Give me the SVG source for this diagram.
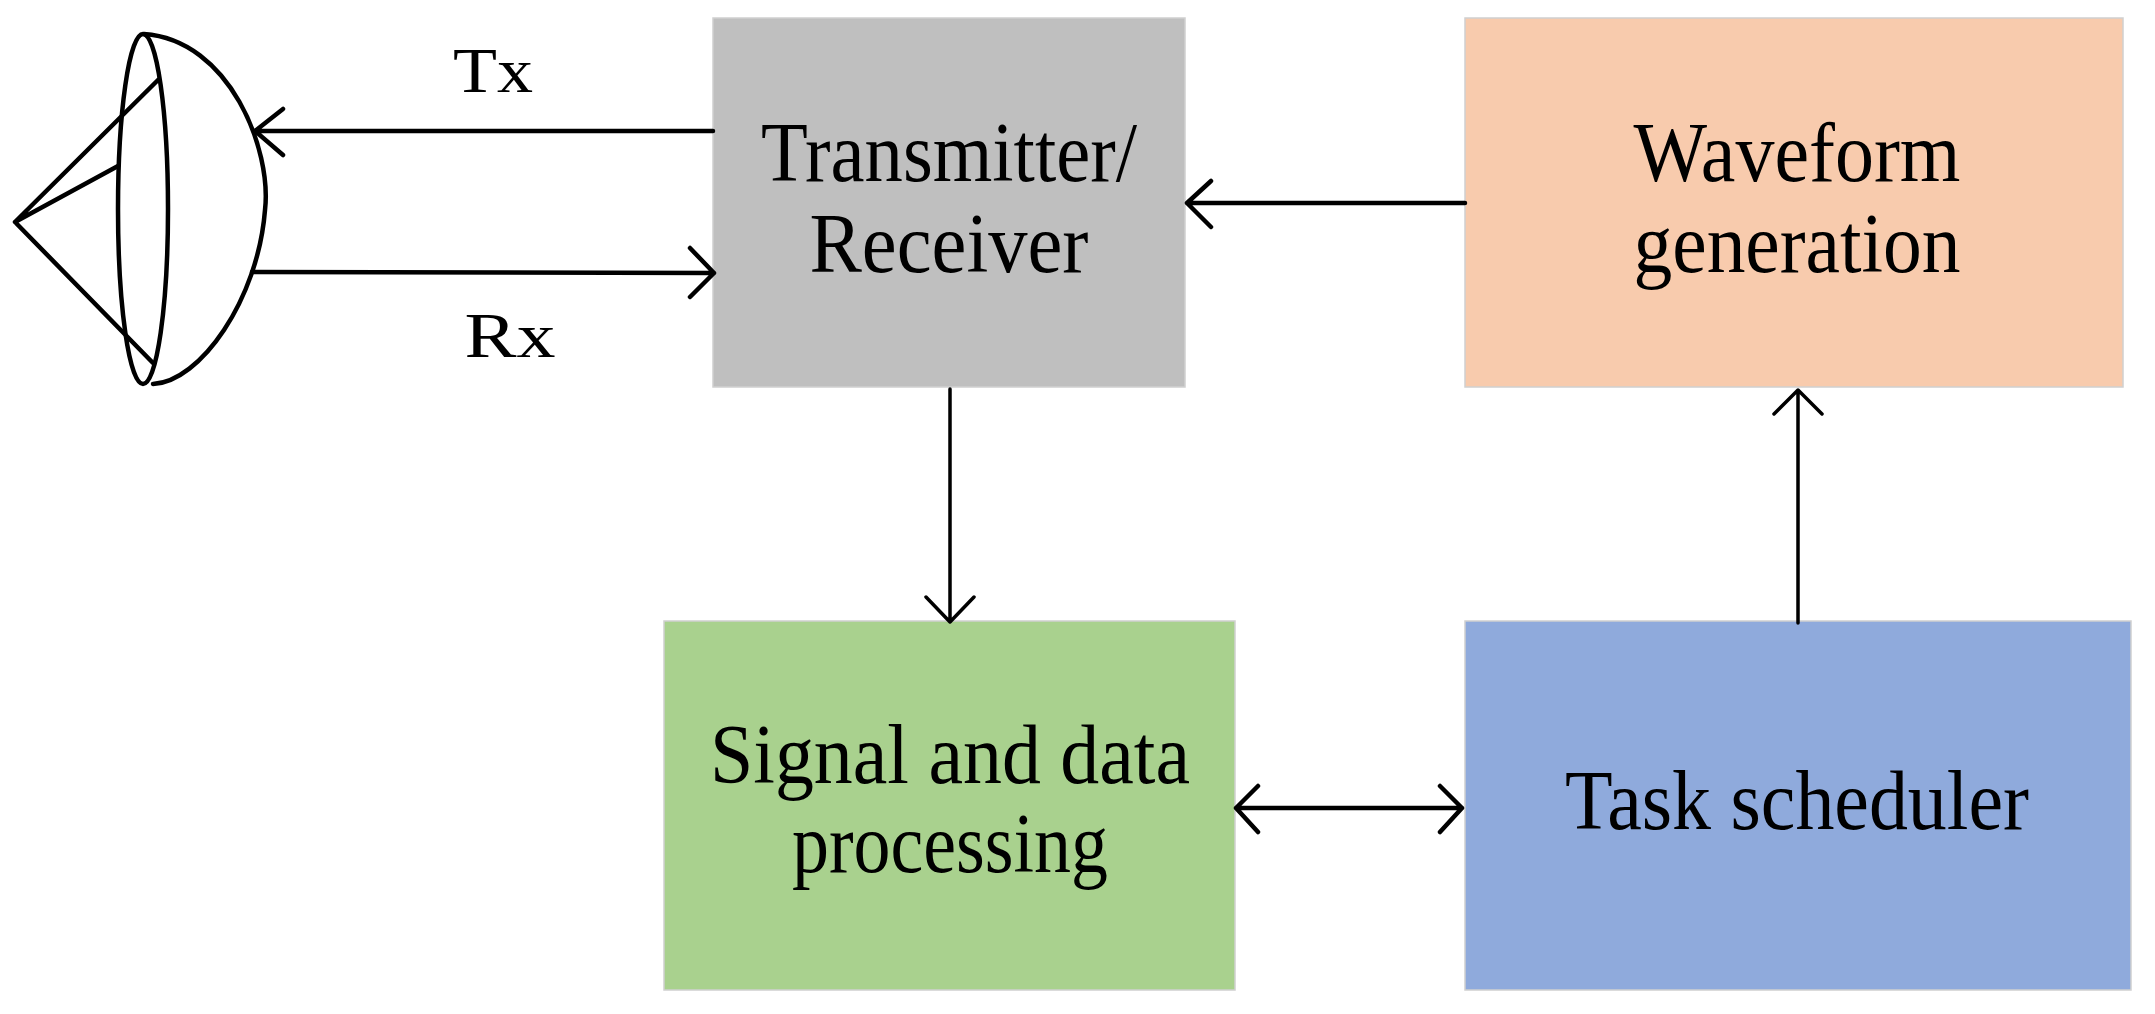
<svg xmlns="http://www.w3.org/2000/svg" width="2155" height="1014" viewBox="0 0 2155 1014">
<style>
.box{stroke:#d0d0d0;stroke-width:1.5}
.t{font-family:"Liberation Serif",serif;font-size:84px;fill:#000;text-anchor:middle}
.l{font-family:"Liberation Serif",serif;font-size:64px;fill:#000;text-anchor:middle}
.c{stroke:#000;stroke-width:4.5;fill:none;stroke-linecap:round;stroke-linejoin:round}
.c3{stroke:#000;stroke-width:3.5;fill:none;stroke-linecap:round;stroke-linejoin:round}
</style>
<rect width="2155" height="1014" fill="#fff"/>
<g id="antenna" class="c" stroke-width="5">
<ellipse cx="143" cy="209" rx="25" ry="175"/>
<path d="M144,34 C230,40 272,150 265,210 C258,300 200,382 153,384"/>
<path d="M158,80 L15,222 L153,363 M15,222 L118,166"/>
</g>
<g id="transceiver"><rect class="box" x="713" y="18" width="472" height="369" fill="#bfbfbf"/>
<text class="t" x="949" y="181" textLength="376" lengthAdjust="spacingAndGlyphs">Transmitter/</text>
<text class="t" x="949" y="272" textLength="279" lengthAdjust="spacingAndGlyphs">Receiver</text></g>
<g id="waveform"><rect class="box" x="1465" y="18" width="658" height="369" fill="#f8cbad"/>
<text class="t" x="1797" y="181" textLength="327" lengthAdjust="spacingAndGlyphs">Waveform</text>
<text class="t" x="1797" y="272" textLength="327" lengthAdjust="spacingAndGlyphs">generation</text></g>
<g id="signal"><rect class="box" x="664" y="621" width="571" height="369" fill="#a9d18e"/>
<text class="t" x="950" y="783" textLength="480" lengthAdjust="spacingAndGlyphs">Signal and data</text>
<text class="t" x="950" y="872" textLength="316" lengthAdjust="spacingAndGlyphs">processing</text></g>
<g id="scheduler"><rect class="box" x="1465" y="621" width="666" height="369" fill="#8faadc"/>
<text class="t" x="1797" y="829" textLength="464" lengthAdjust="spacingAndGlyphs">Task scheduler</text></g>
<g id="labels">
<text class="l" x="493" y="92" textLength="80" lengthAdjust="spacingAndGlyphs">Tx</text>
<text class="l" x="510" y="357" textLength="91" lengthAdjust="spacingAndGlyphs">Rx</text>
</g>
<g id="connectors">
<path class="c" d="M713,131 L255,131 M283,109 L255,131 L283,155"/>
<path class="c" d="M252,272 L714,273 M690,248 L714,273 L690,297"/>
<path class="c" d="M1465,203 L1187,203 M1211,181 L1187,203 L1211,227"/>
<path class="c3" d="M950,389 L950,622 M926,597 L950,622 L974,597"/>
<path class="c3" d="M1798,623 L1798,390 M1774,414 L1798,390 L1822,414"/>
<path class="c" d="M1236,808 L1462,808 M1258,786 L1236,808 L1258,832 M1440,786 L1462,808 L1440,832"/>
</g>
</svg>
